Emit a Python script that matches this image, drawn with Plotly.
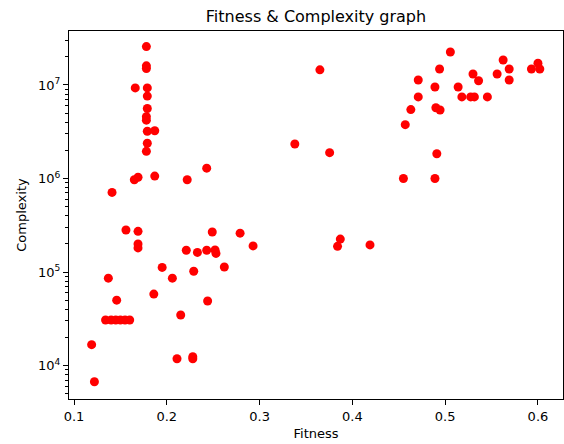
import plotly.graph_objects as go

fitness = [0.178, 0.178, 0.178, 0.166, 0.179, 0.179, 0.179, 0.178, 0.178, 0.179,
           0.187, 0.179, 0.178, 0.165, 0.169, 0.187, 0.222, 0.243, 0.141, 0.156,
           0.169, 0.169, 0.169, 0.221, 0.233, 0.243, 0.249, 0.195, 0.137, 0.206,
           0.229, 0.146, 0.186, 0.244, 0.134, 0.140, 0.145, 0.150, 0.155, 0.160,
           0.215, 0.119, 0.211, 0.228, 0.228, 0.122, 0.338, 0.3755, 0.365, 0.279,
           0.293, 0.387, 0.384, 0.419, 0.252, 0.253, 0.262, 0.5056, 0.5625, 0.600,
           0.494, 0.569, 0.593, 0.602, 0.471, 0.530, 0.556, 0.536, 0.569, 0.489,
           0.514, 0.471, 0.518, 0.5275, 0.5315, 0.5455, 0.463, 0.490, 0.4945, 0.457,
           0.491, 0.455, 0.489]
complexity = [2.57e7, 1.6e7, 1.5e7, 9.3e6, 9.3e6, 7.6e6, 5.6e6, 4.57e6, 4.2e6, 3.2e6,
              3.24e6, 2.38e6, 1.95e6, 9.7e5, 1.03e6, 1.06e6, 9.7e5, 1.29e6, 7.1e5, 2.81e5,
              2.72e5, 1.99e5, 1.81e5, 1.71e5, 1.62e5, 1.71e5, 2.68e5, 1.12e5, 8.6e4, 8.6e4,
              1.02e5, 5.0e4, 5.8e4, 4.9e4, 3.07e4, 3.07e4, 3.07e4, 3.07e4, 3.07e4, 3.07e4,
              3.47e4, 1.67e4, 1.18e4, 1.24e4, 1.18e4, 6.7e3, 2.34e6, 1.89e6, 1.45e7, 2.6e5,
              1.9e5, 2.25e5, 1.88e5, 1.95e5, 1.72e5, 1.58e5, 1.13e5, 2.25e7, 1.85e7, 1.71e7,
              1.48e7, 1.48e7, 1.48e7, 1.48e7, 1.13e7, 1.31e7, 1.31e7, 1.11e7, 1.13e7, 9.5e6,
              9.5e6, 7.45e6, 7.45e6, 7.45e6, 7.45e6, 7.45e6, 5.45e6, 5.7e6, 5.4e6, 3.76e6,
              1.84e6, 1.0e6, 1.0e6]

x_ticks = [0.1, 0.2, 0.3, 0.4, 0.5, 0.6]
x_tick_labels = ["0.1", "0.2", "0.3", "0.4", "0.5", "0.6"]
y_ticks = [1e4, 1e5, 1e6, 1e7]
y_tick_labels = ["10<sup>4</sup>", "10<sup>5</sup>", "10<sup>6</sup>", "10<sup>7</sup>"]

minor_vals = [m * 10 ** e for e in range(3, 8) for m in range(2, 10)]

fig = go.Figure(go.Scatter(
    x=fitness, y=complexity, mode="markers",
    marker=dict(color="#ff0000", size=9, line=dict(width=0)),
))

font = "DejaVu Sans, sans-serif"
fig.update_layout(
    width=564, height=444,
    margin=dict(l=69, r=1, t=31, b=45),
    plot_bgcolor="white", paper_bgcolor="white",
    showlegend=False,
    font=dict(family=font, color="black", size=13),
    title=dict(text="Fitness & Complexity graph", x=0.5, xref="paper",
               y=1 - 16 / 444, yref="container", yanchor="middle",
               font=dict(size=16, family=font, color="black")),
    xaxis=dict(range=[0.0946, 0.627], tickvals=x_ticks, ticktext=x_tick_labels,
               showgrid=False, zeroline=False, showline=True, linecolor="black",
               linewidth=1, mirror=True, ticks="outside", ticklen=5, tickcolor="black",
               tickfont=dict(size=13),
               title=dict(text="Fitness", font=dict(size=13), standoff=6)),
    yaxis=dict(type="log", range=[3.642, 7.577], tickvals=y_ticks, ticktext=y_tick_labels,
               showgrid=False, zeroline=False, showline=True, linecolor="black",
               linewidth=1, mirror=True, ticks="outside", ticklen=5, tickcolor="black",
               tickfont=dict(size=13),
               minor=dict(tickvals=minor_vals, ticks="outside", ticklen=3,
                          tickcolor="black", showgrid=False),
               title=dict(text="Complexity", font=dict(size=13), standoff=8)),
)

fig.write_html("out.html")
